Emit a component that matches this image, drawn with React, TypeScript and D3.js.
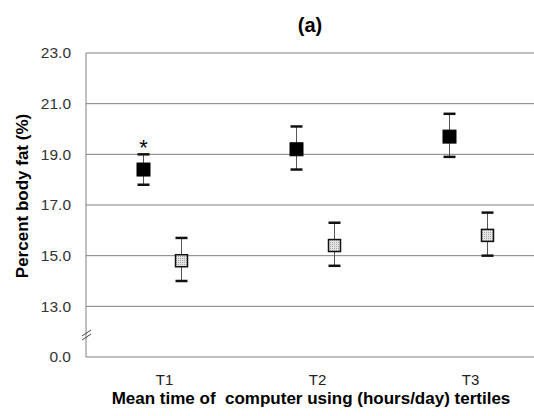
import React from 'react'
import * as d3 from 'd3'

// categories and series
const tertiles = ['T1', 'T2', 'T3']
const groupA = [18.4, 19.2, 19.7] // black squares
const groupALow = [17.8, 18.4, 18.9]
const groupAHigh = [19.0, 20.1, 20.6]
const groupB = [14.8, 15.4, 15.8] // hatched squares
const groupBLow = [14.0, 14.6, 15.0]
const groupBHigh = [15.7, 16.3, 16.7]
// y ticks; the lowest is drawn below the axis break as 0.0
const yTicks = [11, 13, 15, 17, 19, 21, 23]
const yTickLabels = ['0.0', '13.0', '15.0', '17.0', '19.0', '21.0', '23.0']
const marks = ['*', '', '']

const W = 534
const H = 416
const left = 86
const top = 53
const bottom = 357
const font = 'Arial, "Liberation Sans", sans-serif'

export default function App() {
  const y = d3.scaleLinear().domain([11, 23]).range([bottom, top])
  const x = d3.scaleBand().domain(tertiles).range([left, left + 459])
  const off = 19

  const series = [
    { vals: groupA, lo: groupALow, hi: groupAHigh, dx: -off, fill: '#000', size: 13, stroke: '#000' },
    { vals: groupB, lo: groupBLow, hi: groupBHigh, dx: off, fill: 'url(#dots)', size: 12, stroke: '#111' },
  ]

  return (
    <svg width={W} height={H} style={{ position: 'absolute', left: 0, top: 0, background: '#fff' }}>
      <defs>
        <pattern id="dots" width="2" height="2" patternUnits="userSpaceOnUse">
          <rect width="2" height="2" fill="#e4e4e4" />
          <rect width="1" height="1" fill="#a8a8a8" />
        </pattern>
      </defs>
      <text x={310} y={32} textAnchor="middle" fontFamily={font} fontWeight="bold" fontSize={20}>(a)</text>

      {yTicks.map((t, i) => (
        <g key={t}>
          {i > 0 && <line x1={left} x2={W} y1={y(t)} y2={y(t)} stroke="#808080" strokeWidth={1} />}
          <text x={71} y={y(t)} dy="0.35em" textAnchor="end" fontFamily={font} fontSize={15.5} fill="#333">
            {yTickLabels[i]}
          </text>
        </g>
      ))}
      <line x1={left} x2={left} y1={top} y2={bottom} stroke="#808080" />
      <line x1={left} x2={W} y1={bottom} y2={bottom} stroke="#808080" />
      {/* axis break */}
      <line x1={82} x2={91} y1={336} y2={330} stroke="#444" />
      <line x1={82} x2={91} y1={340} y2={334} stroke="#444" />

      {series.map((s, si) =>
        tertiles.map((c, i) => {
          const cx = x(c)! + x.bandwidth() / 2 + s.dx
          return (
            <g key={`${si}-${c}`}>
              <line x1={cx} x2={cx} y1={y(s.hi[i])} y2={y(s.lo[i])} stroke="#555" />
              <line x1={cx - 6} x2={cx + 6} y1={y(s.hi[i])} y2={y(s.hi[i])} stroke="#111" strokeWidth={2.5} />
              <line x1={cx - 6} x2={cx + 6} y1={y(s.lo[i])} y2={y(s.lo[i])} stroke="#111" strokeWidth={2.5} />
              <rect x={cx - s.size / 2} y={y(s.vals[i]) - s.size / 2} width={s.size} height={s.size}
                fill={s.fill} stroke={s.stroke} strokeWidth={si === 1 ? 1.5 : 1} />
              {si === 0 && marks[i] && (
                <text x={cx} y={y(s.hi[i]) + 1} textAnchor="middle" fontFamily={font} fontSize={22}>{marks[i]}</text>
              )}
            </g>
          )
        })
      )}

      {tertiles.map((c) => (
        <text key={c} x={x(c)! + x.bandwidth() / 2 + 2} y={380} dy="0.35em" textAnchor="middle"
          fontFamily={font} fontSize={15} fill="#222">{c}</text>
      ))}
      <text x={311} y={404} textAnchor="middle" fontFamily={font} fontWeight="bold" fontSize={17}
        style={{ whiteSpace: 'pre' }}>
        {'Mean time of  computer using (hours/day) tertiles'}
      </text>
      <text transform={`translate(28,196) rotate(-90)`} textAnchor="middle" fontFamily={font}
        fontWeight="bold" fontSize={17}>Percent body fat (%)</text>
    </svg>
  )
}
